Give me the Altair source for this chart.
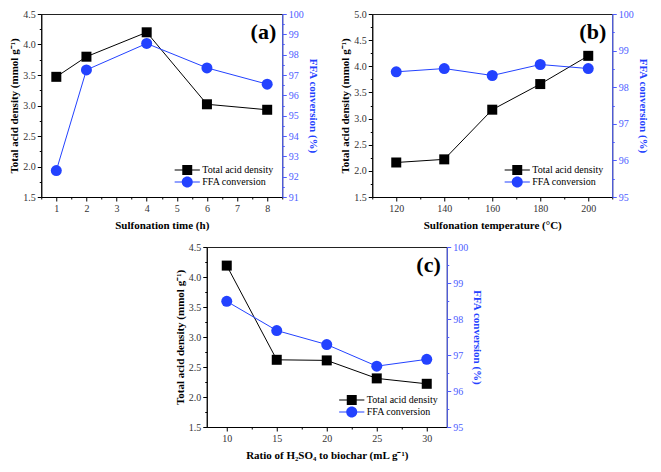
import altair as alt
import pandas as pd

SERIF = "Liberation Serif"
BLUE = "#2342ff"
BLUE_AXIS = "#4d5dff"

SERIES = ["Total acid density", "FFA conversion"]

# (a) sulfonation time
time_h = [1, 2, 4, 6, 8]
acid_a = [3.47, 3.80, 4.20, 3.02, 2.93]
ffa_a = [92.3, 97.25, 98.55, 97.35, 96.55]

# (b) sulfonation temperature
temp_c = [120, 140, 160, 180, 200]
acid_b = [2.16, 2.22, 3.17, 3.66, 4.20]
ffa_b = [98.42, 98.51, 98.32, 98.62, 98.51]

# (c) ratio of H2SO4 to biochar
ratio = [10, 15, 20, 25, 30]
acid_c = [4.19, 2.62, 2.61, 2.31, 2.22]
ffa_c = [98.49, 97.68, 97.29, 96.69, 96.88]

# legend symbols: line segment + marker (unit = 6 px for symbol size 144)
SQ_PATH = "M-2.1,-0.09H2.1V0.09H-2.1ZM-0.83,-0.83H0.83V0.83H-0.83Z"
CIRC_PATH = ("M-2.1,-0.09H2.1V0.09H-2.1ZM-0.92,0A0.92,0.92,0,1,1,0.92,0"
             "A0.92,0.92,0,1,1,-0.92,0Z")


def frange(start, stop, step, lo=None, hi=None):
    n = int(round((stop - start) / step))
    vals = [round(start + i * step, 6) for i in range(n + 1)]
    if lo is not None:
        vals = [v for v in vals if lo - 1e-9 <= v <= hi + 1e-9]
    return vals


def major(step):
    return f"abs(datum.value / {step} - round(datum.value / {step})) < 1e-6"


def make_axis(values, step, fmt, orient, title, color="black", label_color="#333333",
              title_color="black", title_padding=4):
    test = major(step)
    return alt.Axis(
        values=values, orient=orient, title=title,
        labelExpr=f"{test} ? format(datum.value, '{fmt}') : ''",
        tickSize={"condition": {"test": test, "value": 4}, "value": 2},
        domainColor=color, tickColor=color, labelColor=label_color, titleColor=title_color,
        labelFont=SERIF, labelFontSize=10, titleFont=SERIF, titleFontSize=11,
        titleFontWeight="bold", grid=False, labelPadding=2, titlePadding=title_padding,
        domainWidth=1, tickWidth=1, labelOverlap=False, labelFlush=False,
    )


def panel(xv, acid, ffa, x_title, x_dom, x_step, x_minor, y1_dom, y2_dom, label, w, h):
    df = pd.DataFrame({"x": xv, "acid": acid, "ffa": ffa})
    xticks = frange(x_dom[0] - x_minor, x_dom[1] + x_minor, x_minor, x_dom[0], x_dom[1])
    # align minor ticks to the majors
    first_major = xv[0]
    xticks = [v for v in frange(first_major - 4 * x_step, first_major + 20 * x_step, x_minor)
              if x_dom[0] - 1e-9 <= v <= x_dom[1] + 1e-9]
    xenc = alt.X("x:Q", scale=alt.Scale(domain=x_dom, nice=False, zero=False),
                 axis=make_axis(xticks, x_step, ".0f", "bottom", x_title, title_padding=6))
    acid_layer = alt.Chart(df).mark_line(
        color="black", strokeWidth=1,
        point=alt.OverlayMarkDef(shape="square", size=100, filled=True, color="black", opacity=1),
    ).encode(
        x=xenc,
        y=alt.Y("acid:Q", scale=alt.Scale(domain=y1_dom, nice=False, zero=False),
                axis=make_axis(frange(y1_dom[0], y1_dom[1], 0.25), 0.5, ".1f", "left",
                               "Total acid density (mmol g⁻¹)", title_padding=3)),
    )
    ffa_layer = alt.Chart(df).mark_line(
        color=BLUE, strokeWidth=1,
        point=alt.OverlayMarkDef(shape="circle", size=121, filled=True, color=BLUE, opacity=1),
    ).encode(
        x=xenc,
        y=alt.Y("ffa:Q", scale=alt.Scale(domain=y2_dom, nice=False, zero=False),
                axis=make_axis(frange(y2_dom[0], y2_dom[1], 0.5), 1, ".0f", "right",
                               "FFA conversion (%)", color=BLUE_AXIS, label_color=BLUE_AXIS,
                               title_color=BLUE, title_padding=4)),
    )
    leg = dict(title=None, orient="bottom-right", offset=9, labelFont=SERIF, labelFontSize=10,
               labelColor="black", symbolSize=144, rowPadding=1, labelOffset=9, padding=0,
               symbolStrokeWidth=0)
    legend_layer = alt.Chart(pd.DataFrame({"series": SERIES})).transform_filter("false").mark_point(
        filled=True, opacity=1
    ).encode(
        color=alt.Color("series:N", scale=alt.Scale(domain=SERIES, range=["black", BLUE]),
                        legend=alt.Legend(**leg)),
        shape=alt.Shape("series:N", scale=alt.Scale(domain=SERIES, range=[SQ_PATH, CIRC_PATH]),
                        legend=alt.Legend(**leg)),
    )
    label_layer = alt.Chart(pd.DataFrame({"t": [label]})).mark_text(
        font=SERIF, fontSize=22, fontWeight="bold", align="right", baseline="middle", color="black"
    ).encode(text="t:N", x=alt.value(w - 6), y=alt.value(18))
    return alt.layer(acid_layer, ffa_layer, legend_layer, label_layer).resolve_scale(
        y="independent"
    ).properties(width=w, height=h)


pa = panel(time_h, acid_a, ffa_a, "Sulfonation time (h)", [0.5, 8.5], 1, 0.5,
           [1.5, 4.5], [91, 100], "(a)", 241, 183)
pb = panel(temp_c, acid_b, ffa_b, "Sulfonation temperature (°C)", [110, 210], 20, 10,
           [1.5, 5.0], [95, 100], "(b)", 240, 183)
pc = panel(ratio, acid_c, ffa_c, "Ratio of H₂SO₄ to biochar (mL g⁻¹)", [8, 32], 5, 2.5,
           [1.5, 4.5], [95, 100], "(c)", 240, 180)

top = alt.hconcat(pa, pb, spacing=20).resolve_scale(color="independent", shape="independent")
chart = alt.vconcat(top, pc, spacing=10, center=True).resolve_scale(
    color="independent", shape="independent"
).properties(padding=0).configure_view(stroke="#222222", strokeWidth=1)

chart.save("out.html", embed_options={"renderer": "svg", "actions": False})
